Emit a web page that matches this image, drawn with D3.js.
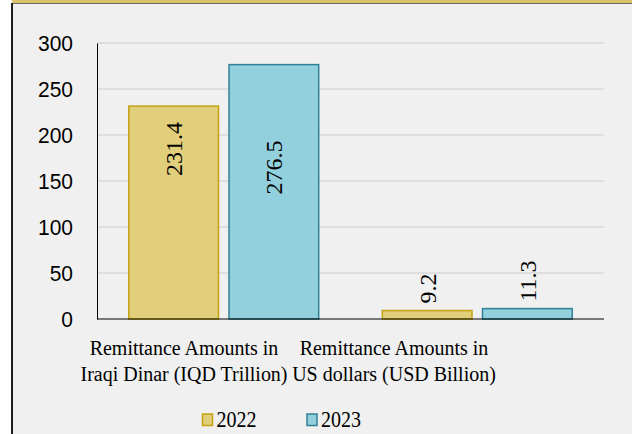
<!DOCTYPE html>
<html>
<head>
<meta charset="utf-8">
<script src="https://cdn.jsdelivr.net/npm/d3@7"></script>
<style>
  html, body { margin: 0; padding: 0; background: #ffffff; }
  svg { display: block; }
  .serif { font-family: "Liberation Serif", "Times New Roman", serif; }
  .sans { font-family: "Liberation Sans", Arial, sans-serif; }
</style>
</head>
<body>
<svg id="chart" width="632" height="434"></svg>
<script>
// Remittance amounts by currency, 2022 vs 2023
const categories = [
  ["Remittance Amounts in", "Iraqi Dinar (IQD Trillion)"],
  ["Remittance Amounts in", "US dollars (USD Billion)"]
];
const years = ["2022", "2023"];
const values2022 = [231.4, 9.2];
const values2023 = [276.5, 11.3];
const yTicks = [0, 50, 100, 150, 200, 250, 300];

const series = [
  { name: years[0], values: values2022, fill: "#e1cf7b", stroke: "#c4a212" },
  { name: years[1], values: values2023, fill: "#92d0dd", stroke: "#2f8196" }
];

const svg = d3.select("#chart");
const W = 632, H = 434;

// panel background, left frame and header strip
svg.append("rect").attr("x", 12).attr("y", 0).attr("width", W - 12).attr("height", H).attr("fill", "#f0f0f0");
svg.append("rect").attr("x", 12).attr("y", 0).attr("width", W - 12).attr("height", 3).attr("fill", "#d9c46c");
svg.append("line").attr("x1", 12).attr("x2", W).attr("y1", 3.5).attr("y2", 3.5)
  .attr("stroke", "#6b6b6b").attr("stroke-width", 1.2);
svg.append("line").attr("x1", 12).attr("x2", 12).attr("y1", 3).attr("y2", H)
  .attr("stroke", "#1e1e1e").attr("stroke-width", 2);

const plot = { left: 97, right: 604, top: 43, bottom: 319 };

const y = d3.scaleLinear().domain([0, 300]).range([plot.bottom, plot.top]);
const x0 = d3.scaleBand().domain(d3.range(categories.length))
  .range([plot.left, plot.right]).paddingInner(0.245).paddingOuter(0.1225);
const x1 = d3.scaleBand().domain(years).range([0, x0.bandwidth()]).paddingInner(0.09);

// gridlines
svg.append("g").selectAll("line").data(yTicks.filter(t => t > 0)).join("line")
  .attr("x1", plot.left).attr("x2", plot.right)
  .attr("y1", d => y(d)).attr("y2", d => y(d))
  .attr("stroke", "#d9d9d9").attr("stroke-width", 1.5);

// y axis
const yAxis = svg.append("g").attr("transform", `translate(${plot.left},0)`)
  .call(d3.axisLeft(y).tickValues(yTicks).tickSize(0).tickPadding(24));
yAxis.attr("font-family", null).attr("font-size", null);
yAxis.select(".domain").attr("stroke", "#000").attr("stroke-width", 1);
yAxis.selectAll("text")
  .attr("class", "sans")
  .style("font-size", "21px").attr("fill", "#000")
  .attr("dy", "0.36em")
  .attr("transform", function () {
    return `translate(0,${d3.select(this.parentNode).datum() === undefined ? 0 : 0}) scale(1,1.08)`;
  });
yAxis.selectAll(".tick").each(function (d) {
  d3.select(this).attr("transform", `translate(0,${y(d)})`);
});

// bars
series.forEach(s => {
  svg.append("g").selectAll("rect").data(s.values).join("rect")
    .attr("x", (d, i) => x0(i) + x1(s.name) + 0.75)
    .attr("width", x1.bandwidth() - 1.5)
    .attr("y", d => y(d))
    .attr("height", d => y(0) - y(d))
    .attr("fill", s.fill).attr("stroke", s.stroke).attr("stroke-width", 1.5);
});

// baseline
svg.append("line").attr("x1", plot.left).attr("x2", plot.right)
  .attr("y1", y(0)).attr("y2", y(0)).attr("stroke", "#000").attr("stroke-width", 1.2);

// rotated value labels: inside the tall bars, just above the short ones
const insideDrop = { "2022": 16, "2023": 76 };
series.forEach(s => {
  s.values.forEach((v, i) => {
    const cx = x0(i) + x1(s.name) + x1.bandwidth() / 2;
    const tall = (y(0) - y(v)) > 60;
    const yy = tall ? y(v) + insideDrop[s.name] : y(v) - 7;
    svg.append("text")
      .attr("class", "serif")
      .attr("transform", `translate(${cx + 8.5},${yy}) rotate(-90)`)
      .attr("text-anchor", tall ? "end" : "start")
      .style("font-size", "24px").attr("fill", "#000")
      .text(v.toFixed(1));
  });
});

// category labels
const labelCenters = [184, 394];
categories.forEach((lines, i) => {
  const t = svg.append("text")
    .attr("class", "serif")
    .attr("text-anchor", "middle")
    .attr("transform", `translate(${labelCenters[i]},355) scale(1,1.08)`)
    .style("font-size", "20px").attr("fill", "#000");
  lines.forEach((ln, k) => {
    t.append("tspan").attr("x", 0).attr("y", k * 24.5).text(ln);
  });
});

// legend
const legendX = [202.5, 307];
series.forEach((s, i) => {
  svg.append("rect").attr("x", legendX[i]).attr("y", 414).attr("width", 10).attr("height", 11.5)
    .attr("fill", s.fill).attr("stroke", s.stroke).attr("stroke-width", 1.5);
  svg.append("text")
    .attr("class", "serif")
    .attr("transform", `translate(${legendX[i] + 14},426.5) scale(1,1.12)`)
    .style("font-size", "20px").attr("fill", "#000")
    .text(s.name);
});
</script>
</body>
</html>
